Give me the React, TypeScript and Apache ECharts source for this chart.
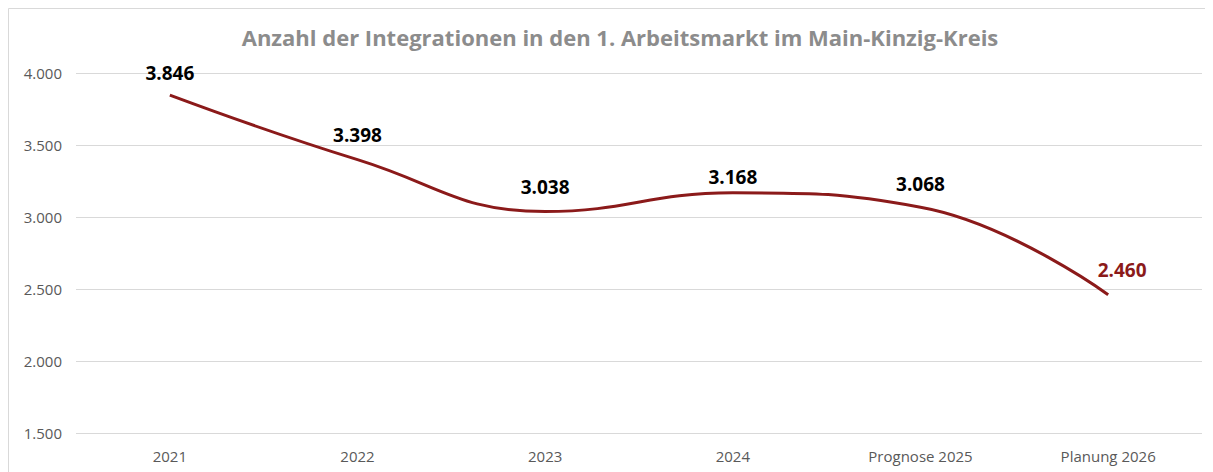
import React, { useEffect, useRef } from "react";
import * as echarts from "echarts";

const categories = ["2021", "2022", "2023", "2024", "Prognose 2025", "Planung 2026"];
const integrations = [3846, 3398, 3038, 3168, 3068, 2460];
const yTicks = { min: 1500, max: 4000, step: 500 };
const titleText = "Anzahl der Integrationen in den 1. Arbeitsmarkt im Main-Kinzig-Kreis";

const fmt = (v: number) => {
  const s = Math.round(v).toString();
  return s.replace(/\B(?=(\d{3})+(?!\d))/g, ".");
};

export default function App() {
  const ref = useRef<HTMLDivElement>(null);
  useEffect(() => {
    if (!ref.current) return;
    const chart = echarts.init(ref.current, null, { renderer: "svg" });
    const font = "'Open Sans', 'Noto Sans', sans-serif";
    const red = "#8B1A1A";
    const last = integrations.length - 1;
    chart.setOption({
      animation: false,
      backgroundColor: "#ffffff",
      textStyle: { fontFamily: font },
      graphic: [
        { type: "line", shape: { x1: 0.5, y1: 0.5, x2: 1205, y2: 0.5 }, style: { stroke: "#d9d9d9", lineWidth: 1 } },
        { type: "line", shape: { x1: 0.5, y1: 0.5, x2: 0.5, y2: 464 }, style: { stroke: "#d9d9d9", lineWidth: 1 } },
        {
          type: "text",
          x: 612,
          y: 29,
          style: {
            text: titleText,
            fill: "#8c8c8c",
            font: `bold 22px ${font}`,
            textAlign: "center",
            textVerticalAlign: "middle",
          },
        },
      ],
      grid: { left: 68, right: 11, top: 65, bottom: 39, containLabel: false },
      xAxis: {
        type: "category",
        data: categories,
        boundaryGap: true,
        axisLine: { show: false },
        axisTick: { show: false },
        axisLabel: { color: "#595959", fontSize: 15, margin: 15, fontFamily: font },
      },
      yAxis: {
        type: "value",
        min: yTicks.min,
        max: yTicks.max,
        interval: yTicks.step,
        axisLine: { show: false },
        axisTick: { show: false },
        splitLine: { lineStyle: { color: "#d9d9d9", width: 1 } },
        axisLabel: { color: "#595959", fontSize: 15, margin: 14, fontFamily: font, formatter: (v: number) => fmt(v) },
      },
      series: [
        {
          type: "line",
          data: integrations.map((v, i) => {
            if (i === last) return { value: v, label: { color: red, offset: [14, 0] } };
            if (i === 0) return { value: v, label: { offset: [0, 3] } };
            if (i === 3) return { value: v, label: { offset: [0, 9] } };
            if (i === 4) return { value: v, label: { offset: [0, 2] } };
            return { value: v };
          }),
          smooth: 0.45,
          symbol: "circle",
          symbolSize: 1,
          showSymbol: true,
          itemStyle: { color: "rgba(0,0,0,0)", borderWidth: 0 },
          lineStyle: { color: red, width: 3 },
          label: {
            show: true,
            position: "top",
            distance: 15,
            color: "#000000",
            fontWeight: "bold",
            fontSize: 19,
            fontFamily: font,
            formatter: (p: any) => fmt(p.value),
          },
        },
      ],
    });
    return () => chart.dispose();
  }, []);
  return <div ref={ref} style={{ width: 1205, height: 464 }} />;
}
